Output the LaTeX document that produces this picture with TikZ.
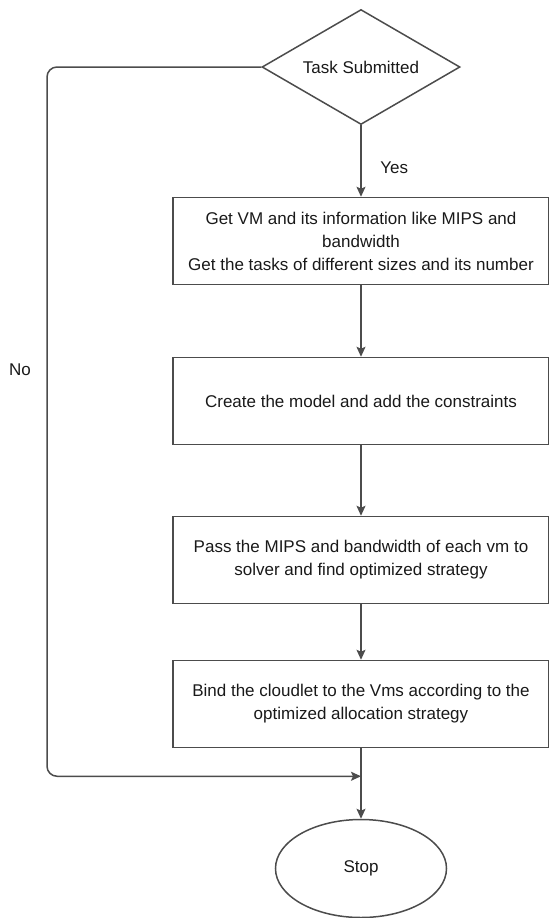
\documentclass[tikz,border=0pt]{standalone}
\usepackage{fontspec}
\setmainfont{Liberation Sans}
\usepackage{tikz}
\usetikzlibrary{positioning, shapes.geometric, arrows.meta}

\begin{document}
\begin{tikzpicture}[
        node distance=35.75pt,
        every node/.style={font=\fontsize{8.5}{11.5}\selectfont, text=black!90},
        box/.style={draw=black!70, line width=0.75pt, rectangle, minimum width=188pt, minimum height=43.5pt, align=center, inner sep=2pt},
        decision/.style={draw=black!70, line width=0.75pt, diamond, aspect=1.72, minimum width=99pt, minimum height=57.5pt, inner sep=0pt, align=center},
        terminal/.style={draw=black!70, line width=0.75pt, ellipse, minimum width=85.5pt, minimum height=49pt, align=center},
        arrow/.style={-{Stealth[length=5pt, width=4.5pt, inset=1pt]}, draw=black!70, line width=0.75pt}
        ]
        \useasboundingbox (0pt,0pt) rectangle (274.5pt,-459pt);

        \node[decision] (task) at (180.5pt,-33.5pt) {Task Submitted};
        \node[box, below=of task] (info) {Get VM and its information like MIPS and\\bandwidth\\Get the tasks of different sizes and its number};
        \node[box, below=of info] (model) {Create the model and add the constraints};
        \node[box, below=35.25pt of model] (solver) {Pass the MIPS and bandwidth of each vm to\\solver and find optimized strategy};
        \node[box, below=27.75pt of solver] (bind) {Bind the cloudlet to the Vms according to the\\optimized allocation strategy};
        \node[terminal, below=35.25pt of bind] (stop) {Stop};

        \coordinate (join) at ([yshift=-14pt]bind.south);
        \coordinate (left) at (23.5pt,0pt);

        \draw[arrow] (task) -- node[right=6pt, pos=0.6] (yes) {Yes} (info);
        \draw[arrow] (info) -- (model);
        \draw[arrow] (model) -- (solver);
        \draw[arrow] (solver) -- (bind);
        \draw[arrow] (bind) -- (stop);
        \draw[arrow, rounded corners=5pt] (task.west) -| (left |- join) -- (join);
        \node (no) at (10pt,-185pt) {No};
    \end{tikzpicture}
\end{document}
